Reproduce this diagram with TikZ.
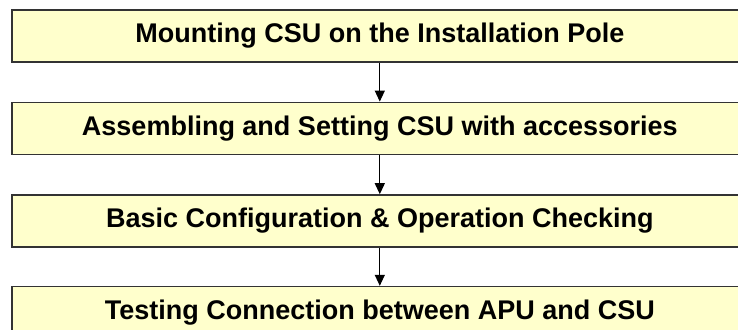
\documentclass[tikz,border=0pt]{standalone}
\usepackage{fontspec}
\newfontfamily\stepfont{Liberation Sans}
\usetikzlibrary{positioning,arrows.meta}
\definecolor{boxfill}{HTML}{FFFFCC}
\definecolor{boxline}{HTML}{333333}

\begin{document}
\begin{tikzpicture}[thick,x=1pt,y=1pt,
	stepbox/.style={draw=boxline,line width=1.6pt,fill=boxfill,minimum width=736pt,minimum height=52pt,
		inner sep=0pt,font=\stepfont\bfseries\fontsize{27}{30}\selectfont},
	flow/.style={line width=1.2pt,-{Triangle[width=10pt,length=11pt]}}]
	% page
		\useasboundingbox (0,0) rectangle (738,-329);
		\clip (0,0) rectangle (738,-329);
	% steps
		\node[stepbox,anchor=north west] (mount) at (11,-9) {Mounting CSU on the Installation Pole};
		\node[stepbox,below=39pt of mount] (assemble) {Assembling and Setting CSU with accessories};
		\node[stepbox,below=39pt of assemble] (config) {Basic Configuration \& Operation Checking};
		\node[stepbox,below=38pt of config] (test) {Testing Connection between APU and CSU};
	% arrows
		\draw[flow] (mount) -- (assemble);
		\draw[flow] (assemble) -- (config);
		\draw[flow] (config) -- (test);
\end{tikzpicture}
\end{document}
